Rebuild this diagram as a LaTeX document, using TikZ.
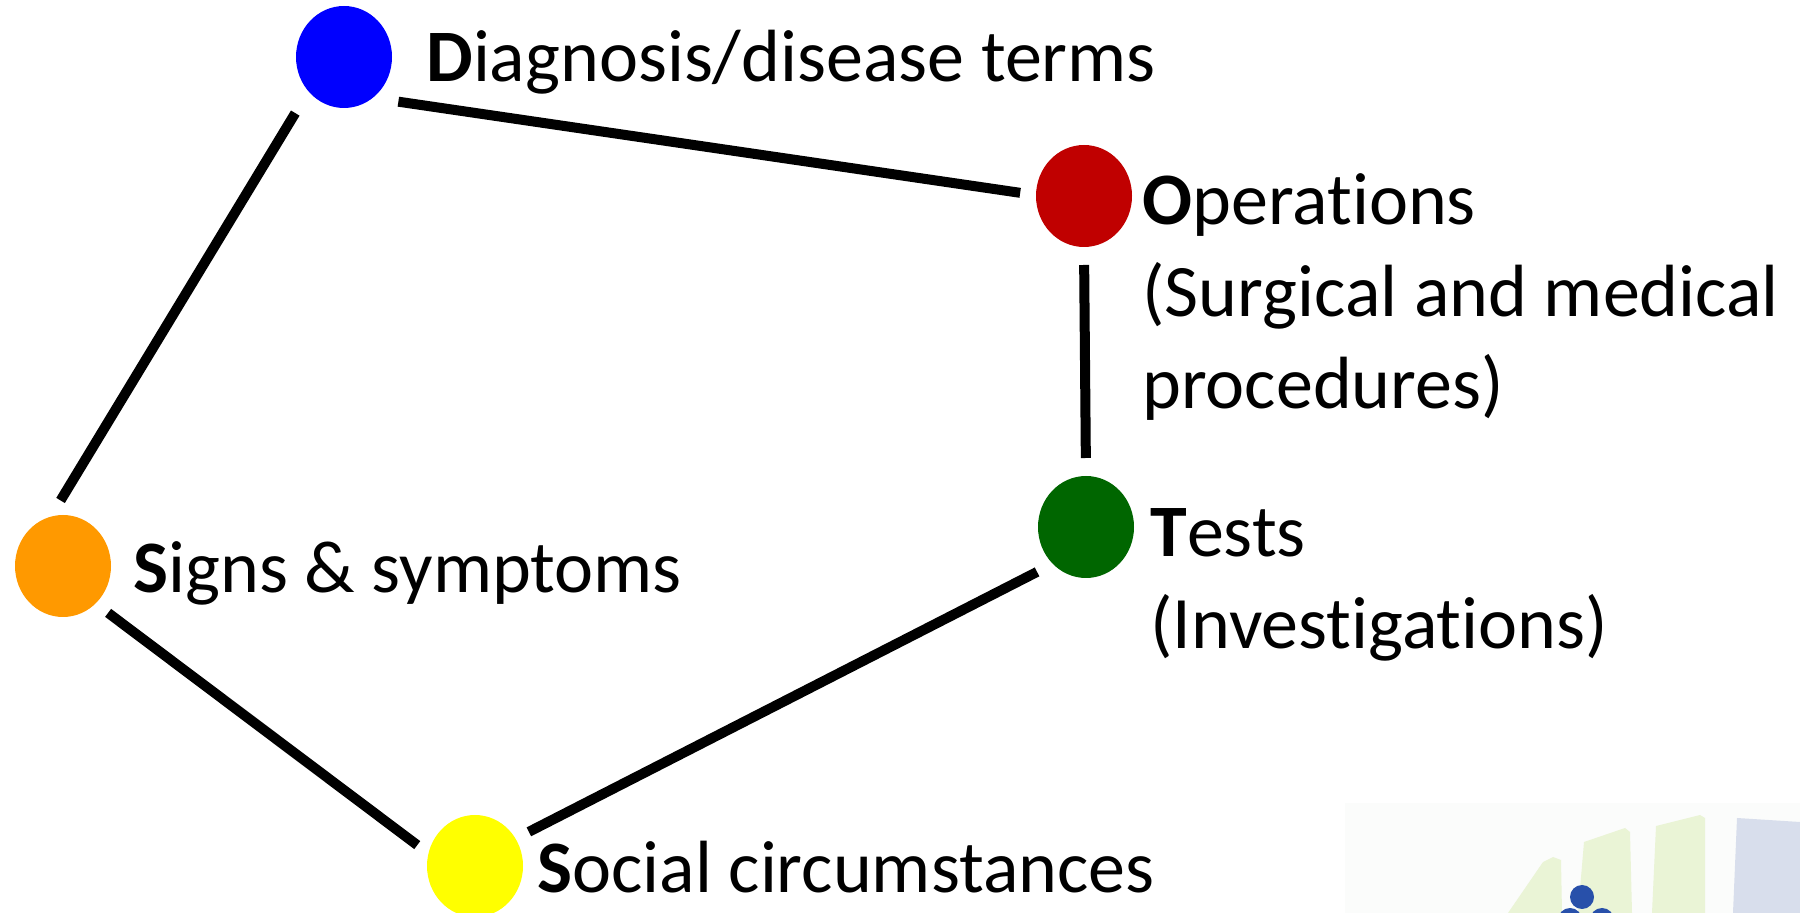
\documentclass[tikz,border=0pt]{standalone}
\usepackage{fontspec}
\setmainfont{Carlito}[Ligatures=NoCommon]
\usepackage{xcolor}
\usepackage{tikz}
\usetikzlibrary{positioning}
\usetikzlibrary{shapes.geometric, calc}
\definecolor{dotblue}{RGB}{0,0,255}
\definecolor{dotred}{RGB}{192,0,0}
\definecolor{dotgreen}{RGB}{0,102,0}
\definecolor{dotorange}{RGB}{255,153,0}
\definecolor{dotyellow}{RGB}{255,255,0}
\definecolor{logoback}{RGB}{251,252,251}
\definecolor{logogreen}{RGB}{234,244,214}
\definecolor{logoslate}{RGB}{216,222,236}
\definecolor{logoblue}{RGB}{40,80,170}

\begin{document}
\begin{tikzpicture}[x=0.5pt,y=-0.5pt,
    dot/.style={ellipse, inner sep=0pt, outer sep=0pt, minimum width=48pt, minimum height=51pt},
    lbl/.style={anchor=base west, inner sep=0pt, align=left, font=\fontsize{37}{46}\selectfont},
    link/.style={line width=5pt}]
        \useasboundingbox (0,0) rectangle (1800,913);
        % faint logo in the corner
        \fill[logoback] (1345,803) rectangle (1800,913);
        \fill[logogreen] (1508,913) -- (1543,862) -- (1553,857) -- (1561,860) -- (1562,913) -- cycle;
        \fill[logogreen] (1578,913) -- (1584,842) -- (1625,828) -- (1630,832) -- (1632,913) -- cycle;
        \fill[logogreen] (1652,913) -- (1656,826) -- (1700,815) -- (1705,818) -- (1705,913) -- cycle;
        \fill[logoslate] (1733,913) -- (1737,818) -- (1800,822) -- (1800,913) -- cycle;
        \fill[logoblue] (1582,897) circle[radius=6pt];
        \fill[logoblue] (1570,920) circle[radius=6pt];
        \fill[logoblue] (1602,920) circle[radius=6pt];
        % the five dots
        \node[dot, fill=dotblue] (diag) at (344,57) {};
        \node[dot, fill=dotred] (oper) at (1084,196) {};
        \node[dot, fill=dotgreen] (tests) at (1086,527) {};
        \node[dot, fill=dotorange] (signs) at (63,566) {};
        \node[dot, fill=dotyellow] (social) at (475,866) {};
        % labels (multi-line ones sit on their last baseline)
        \node[lbl] (diaglbl) at (426,82) {\textbf{D}iagnosis/disease terms};
        \node[lbl] (operlbl) at (1142,409) {\textbf{O}perations\\(Surgical and medical\\procedures)};
        \node[lbl] (testslbl) at (1150,649) {\textbf{T}ests\\(Investigations)};
        \node[lbl] (signslbl) at (133,593) {\textbf{S}igns \& symptoms};
        \node[lbl] (sociallbl) at (537,893) {\textbf{S}ocial circumstances};
        % links
        \draw[link, shorten <=13pt, shorten >=8pt] (diag.-55) -- (oper.179);
        \draw[link, shorten <=12.75pt, shorten >=9.5pt] (diag.224) -- (signs.104);
        \draw[link, shorten <=9pt, shorten >=9pt] (oper.south) -- (tests.north);
        \draw[link, shorten <=7.85pt, shorten >=7pt] (signs.-49) -- (social.165);
        \draw[link, shorten <=7.5pt, shorten >=8.85pt] (social.34) -- (tests.228);
    \end{tikzpicture}
\end{document}
